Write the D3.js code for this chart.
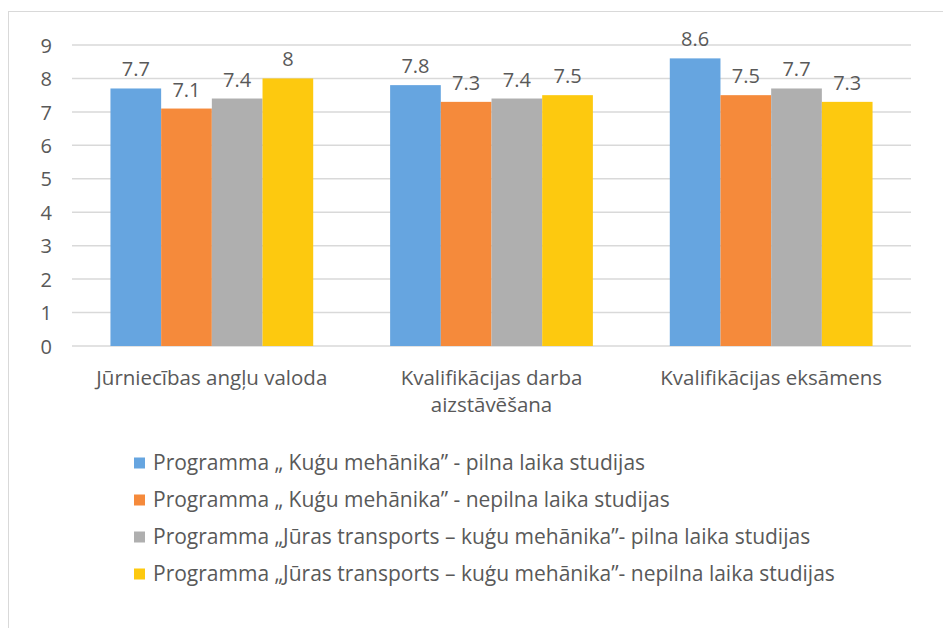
<!DOCTYPE html>
<html lang="lv">
<head>
<meta charset="UTF-8">
<title>chart</title>
<style>
  body { margin: 0; background: #fff; }
  svg { display: block; }
  .tick text, .cat, .lbl, .leg { font-family: "Open Sans", "Noto Sans", sans-serif; fill: #595959; }
</style>
</head>
<body>
<div class="content"></div>
<script src="https://cdn.jsdelivr.net/npm/d3@7"></script>
<script>
var categories = [["Jūrniecības angļu valoda"], ["Kvalifikācijas darba", "aizstāvēšana"], ["Kvalifikācijas eksāmens"]];
var series = [
  "Programma „ Kuģu mehānika” - pilna laika studijas",
  "Programma „ Kuģu mehānika” - nepilna laika studijas",
  "Programma „Jūras transports – kuģu mehānika”- pilna laika studijas",
  "Programma „Jūras transports – kuģu mehānika”- nepilna laika studijas"
];
var values = [
  [7.7, 7.8, 8.6],
  [7.1, 7.3, 7.5],
  [7.4, 7.4, 7.7],
  [8, 7.5, 7.3]
];
var yTicks = [0, 1, 2, 3, 4, 5, 6, 7, 8, 9];
var colors = ["#66a5e0", "#f58a3b", "#afafaf", "#fdc90f"];

var width = 943, height = 628;
var svg = d3.select(".content").append("svg")
  .attr("width", width).attr("height", height);

// chart frame
svg.append("rect")
  .attr("x", 8.5).attr("y", 11.5)
  .attr("width", 960).attr("height", 640)
  .attr("fill", "none").attr("stroke", "#d9d9d9");

var plotL = 72, plotR = 911, plotT = 45, plotB = 346;

var x0 = d3.scaleBand().domain(d3.range(categories.length))
  .range([plotL, plotR]).paddingInner(0.275).paddingOuter(0.1375);
var x1 = d3.scaleBand().domain(d3.range(series.length))
  .range([0, x0.bandwidth()]);
var y = d3.scaleLinear().domain([0, 9]).range([plotB, plotT]);

// grid
svg.append("g").selectAll("line").data(yTicks).enter().append("line")
  .attr("x1", plotL).attr("x2", plotR)
  .attr("y1", function (d) { return y(d); }).attr("y2", function (d) { return y(d); })
  .attr("stroke", "#d9d9d9").attr("stroke-width", 1.5);

var yAxis = svg.append("g")
  .attr("transform", "translate(52,0)")
  .call(d3.axisLeft(y).tickValues(yTicks).tickSize(0).tickPadding(0));
yAxis.select(".domain").remove();
yAxis.selectAll("text").attr("font-size", 20).attr("dy", "0.36em")
  .style("font-family", "'Open Sans', sans-serif").attr("fill", "#595959");

// bars
var groups = svg.append("g").selectAll("g").data(series).enter().append("g")
  .attr("fill", function (d, i) { return colors[i]; });

groups.each(function (s, si) {
  var g = d3.select(this);
  g.selectAll("rect").data(values[si]).enter().append("rect")
    .attr("x", function (d, ci) { return x0(ci) + x1(si); })
    .attr("y", function (d) { return y(d); })
    .attr("width", x1.bandwidth())
    .attr("height", function (d) { return y(0) - y(d); });
  g.selectAll("text").data(values[si]).enter().append("text")
    .attr("class", "lbl")
    .attr("x", function (d, ci) { return x0(ci) + x1(si) + x1.bandwidth() / 2; })
    .attr("y", function (d) { return y(d) - 12; })
    .attr("text-anchor", "middle")
    .attr("font-size", 20)
    .text(function (d) { return d; });
});

// category labels
var cats = svg.append("g").selectAll("text").data(categories).enter().append("text")
  .attr("class", "cat")
  .attr("text-anchor", "middle")
  .attr("font-size", 20.5)
  .attr("x", function (d, i) { return x0(i) + x0.bandwidth() / 2; })
  .attr("y", 385);
cats.selectAll("tspan").data(function (d) { return d; }).enter().append("tspan")
  .attr("x", function () { return d3.select(this.parentNode).attr("x"); })
  .attr("dy", function (d, i) { return i ? 27 : 0; })
  .text(function (d) { return d; });

// legend
var leg = svg.append("g").selectAll("g").data(series).enter().append("g")
  .attr("transform", function (d, i) { return "translate(134," + (463 + i * 37) + ")"; });
leg.append("rect")
  .attr("x", 0).attr("y", -5.5).attr("width", 11).attr("height", 11)
  .attr("fill", function (d, i) { return colors[i]; });
leg.append("text")
  .attr("class", "leg")
  .attr("x", 19).attr("dy", "0.35em")
  .attr("font-size", 21)
  .text(function (d) { return d; });
</script>
</body>
</html>
